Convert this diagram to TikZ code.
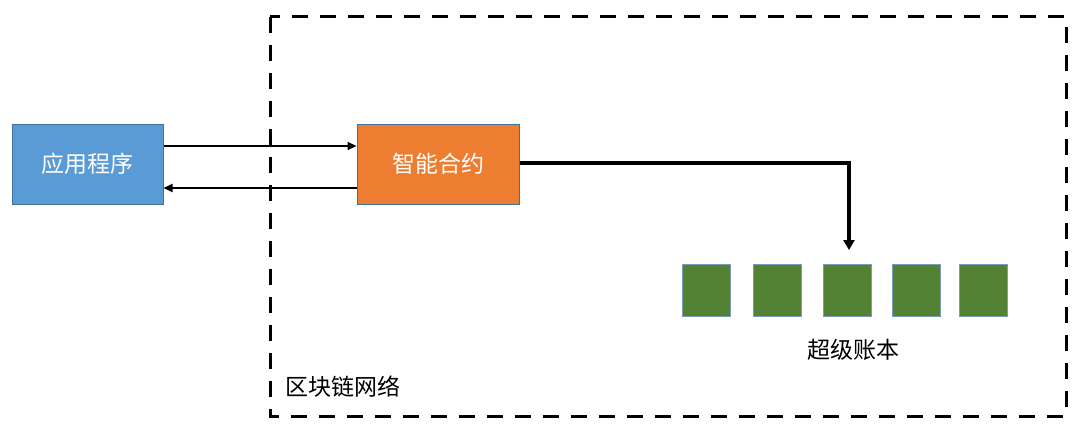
\documentclass[tikz,border=0pt]{standalone}
\usepackage{fontspec}
\setmainfont{Noto Sans CJK SC}
\usetikzlibrary{arrows.meta}
\definecolor{appblue}{HTML}{5B9BD5}
\definecolor{scorange}{HTML}{ED7D31}
\definecolor{ledgergreen}{HTML}{548235}
\definecolor{edgeblue}{HTML}{41719C}
\tikzset{
  box/.style={draw=edgeblue, line width=1pt, minimum width=151pt, minimum height=80pt, inner sep=0pt, text=white, font=\fontsize{23}{26}\selectfont},
  block/.style={draw=edgeblue!70, line width=0.8pt, fill=ledgergreen, minimum width=48pt, minimum height=52pt, inner sep=0pt},
  thin/.style={line width=2pt, -{Triangle[length=9pt,width=8pt]}},
  thick/.style={line width=3.2pt, -{Triangle[length=10pt,width=11pt]}},
  label/.style={font=\fontsize{23}{26}\selectfont, inner sep=0pt}
}
\begin{document}
\begin{tikzpicture}[x=1pt,y=-1pt]
\useasboundingbox (0,0) rectangle (1080,428);
\draw[line width=3pt, dash pattern=on 16pt off 12pt] (270,17) rectangle (1066,416);
\node[box, fill=appblue, minimum width=151pt] (app) at (87.5,164) {应用程序};
\node[box, fill=scorange, minimum width=162pt] (sc) at (438,164) {智能合约};
\foreach \i/\x in {1/706,2/777,3/847.5,4/916,5/983.5}
  \node[block] (b\i) at (\x,290) {};
\node[label, anchor=center] (ledger) at (853,350) {超级账本};
\node[label, anchor=west] (net) at (285,387) {区块链网络};
\draw[thin] (app.east |- 0,146) -- (sc.west |- 0,146);
\draw[thin] (sc.west |- 0,188) -- (app.east |- 0,188);
\coordinate (bend) at (849,163);
\draw[thick] (sc.east |- bend) -- (bend) -- (849,250);
\end{tikzpicture}
\end{document}
